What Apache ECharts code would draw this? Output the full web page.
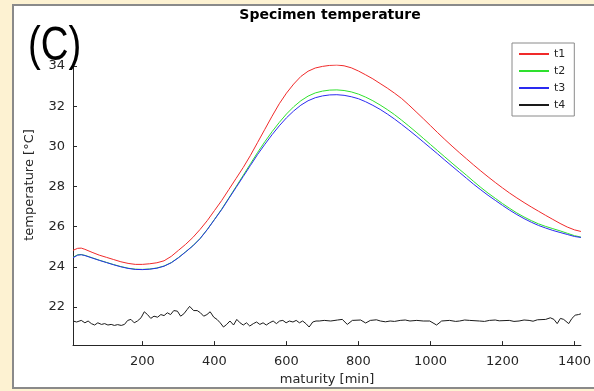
<!DOCTYPE html>
<html>
<head>
<meta charset="utf-8">
<script src="https://cdn.jsdelivr.net/npm/echarts@6/dist/echarts.min.js"></script>
<style>
html,body{margin:0;padding:0;width:594px;height:391px;overflow:hidden;background:#fdf2d2;}
#panel{position:absolute;left:12px;top:4px;width:620px;height:385px;box-sizing:border-box;border:2.5px solid #8a8a8a;background:#fff;}
#chart{position:absolute;left:0;top:0;width:594px;height:391px;}
</style>
</head>
<body>
<div id="panel"></div>
<div id="chart"></div>
<script>
// ---- data ----
const titleText = 'Specimen temperature';
const xName = 'maturity [min]';
const yName = 'temperature [°C]';
const seriesNames = ['t1', 't2', 't3', 't4'];
const xTicks = [200, 400, 600, 800, 1000, 1200, 1400];
const yTicks = [22, 24, 26, 28, 30, 32, 34];

const minutes = [7,20,30,40,60,80,100,120,140,160,180,200,220,240,260,280,300,320,340,360,380,400,420,440,460,480,500,520,540,560,580,600,620,640,660,680,700,720,740,760,780,800,820,840,860,880,900,920,940,960,980,1000,1020,1040,1060,1080,1100,1120,1140,1160,1180,1200,1220,1240,1260,1280,1300,1320,1340,1360,1380,1400,1418];

const t1 = [24.82,24.92,24.93,24.87,24.72,24.58,24.47,24.36,24.25,24.17,24.12,24.12,24.15,24.20,24.30,24.52,24.82,25.12,25.46,25.86,26.30,26.80,27.30,27.85,28.40,28.95,29.55,30.20,30.85,31.50,32.12,32.65,33.10,33.48,33.74,33.90,33.98,34.03,34.05,34.01,33.91,33.75,33.56,33.36,33.13,32.90,32.65,32.38,32.06,31.72,31.38,31.03,30.68,30.34,30.01,29.69,29.38,29.07,28.77,28.48,28.20,27.93,27.67,27.43,27.20,26.98,26.77,26.56,26.36,26.16,25.98,25.84,25.76];

const t2 = [24.47,24.60,24.61,24.57,24.45,24.33,24.22,24.11,24.01,23.93,23.88,23.87,23.89,23.94,24.04,24.21,24.46,24.75,25.05,25.41,25.86,26.36,26.87,27.43,27.99,28.56,29.13,29.70,30.23,30.73,31.19,31.61,31.97,32.27,32.50,32.66,32.75,32.80,32.81,32.78,32.71,32.60,32.45,32.27,32.06,31.83,31.58,31.30,31.01,30.71,30.40,30.09,29.78,29.47,29.16,28.86,28.56,28.25,27.95,27.67,27.41,27.15,26.91,26.68,26.48,26.30,26.14,26.01,25.90,25.79,25.67,25.55,25.48];

const t3 = [24.45,24.58,24.60,24.56,24.44,24.32,24.21,24.10,24.00,23.92,23.87,23.86,23.88,23.93,24.03,24.20,24.45,24.74,25.04,25.40,25.85,26.35,26.85,27.40,27.95,28.50,29.05,29.60,30.10,30.58,31.02,31.42,31.76,32.05,32.27,32.42,32.51,32.56,32.57,32.54,32.47,32.37,32.22,32.04,31.84,31.61,31.36,31.09,30.81,30.52,30.22,29.92,29.62,29.31,29.01,28.71,28.41,28.11,27.83,27.56,27.31,27.06,26.82,26.60,26.40,26.22,26.06,25.93,25.81,25.71,25.61,25.51,25.46];

const t4Minutes = [7,17,30,40,49,58,67,76,86,95,104,113,122,131,141,150,159,168,177,186,196,205,214,223,232,242,251,260,269,278,287,297,306,315,324,331,342,352,361,370,379,388,398,407,416,425,434,443,453,462,471,480,489,498,508,517,526,535,544,553,563,572,581,590,599,608,618,627,636,645,654,663,673,682,691,705,723,742,755,769,783,806,820,833,850,861,875,888,900,916,930,943,962,980,998,1017,1031,1053,1070,1081,1095,1109,1136,1150,1164,1180,1191,1219,1232,1246,1260,1274,1285,1297,1320,1333,1343,1352,1361,1370,1384,1393,1402,1411,1418];

const t4 = [21.30,21.25,21.33,21.21,21.30,21.17,21.10,21.21,21.13,21.17,21.10,21.13,21.08,21.12,21.08,21.13,21.33,21.38,21.21,21.30,21.46,21.76,21.62,21.43,21.54,21.49,21.62,21.57,21.71,21.62,21.82,21.79,21.54,21.66,21.87,22.03,21.82,21.82,21.71,21.54,21.62,21.76,21.49,21.38,21.21,21.00,21.13,21.30,21.10,21.38,21.21,21.10,21.21,21.05,21.17,21.25,21.13,21.21,21.10,21.21,21.30,21.17,21.30,21.33,21.21,21.30,21.25,21.33,21.21,21.30,21.17,21.00,21.25,21.30,21.30,21.33,21.30,21.35,21.38,21.13,21.33,21.35,21.20,21.33,21.36,21.30,21.26,21.30,21.28,21.33,21.35,21.30,21.33,21.30,21.30,21.10,21.30,21.33,21.28,21.30,21.35,21.33,21.30,21.28,21.33,21.35,21.31,21.33,21.28,21.30,21.35,21.33,21.29,21.36,21.38,21.46,21.38,21.17,21.43,21.38,21.17,21.43,21.59,21.62,21.66];

const seriesColors = ['#f02a2a', '#2ee02e', '#2a2af0', '#1a1a1a'];

// ---- chart ----
const zip = (xs, ys) => xs.map((x, i) => [x, ys[i]]);
const chart = echarts.init(document.getElementById('chart'), null, {renderer: 'canvas'});
const font = 'DejaVu Sans';
const txt = '#262626';

const mk = (name, xs, ys, color) => ({
  name, type: 'line', data: zip(xs, ys), symbol: 'none', showSymbol: false,
  lineStyle: {width: 1, color}, itemStyle: {color}, animation: false, z: 3
});

chart.setOption({
  backgroundColor: 'transparent',
  animation: false,
  title: {
    text: titleText, left: 325, top: 3, textAlign: 'center',
    textStyle: {fontFamily: font, fontSize: 14, fontWeight: 'bold', color: '#000'}
  },
  legend: {
    data: seriesNames, orient: 'vertical', left: 512, top: 43,
    padding: [4, 9, 4, 6], itemWidth: 30, itemHeight: 2, itemGap: 3,
    borderColor: '#8a8a8a', borderWidth: 1, backgroundColor: '#fff',
    itemStyle: {opacity: 0},
    textStyle: {fontFamily: font, fontSize: 11, color: txt, lineHeight: 14}
  },
  grid: {left: 73, right: 8, top: 65, bottom: 43, containLabel: false},
  xAxis: {
    type: 'value', min: 7, max: 1418,
    name: xName, nameLocation: 'middle', nameGap: 19,
    nameTextStyle: {fontFamily: font, fontSize: 13, color: txt},
    axisLine: {show: true, lineStyle: {color: '#262626', width: 1}},
    axisTick: {show: true, inside: true, length: 4, customValues: xTicks, lineStyle: {color: '#262626'}},
    axisLabel: {customValues: xTicks, margin: 10, fontFamily: font, fontSize: 13, color: txt,
      formatter: v => String(v)},
    splitLine: {show: false}
  },
  yAxis: {
    type: 'value', min: 20.1, max: 34.05,
    axisLine: {show: true, lineStyle: {color: '#262626', width: 1}},
    axisTick: {show: true, inside: true, length: 4, customValues: yTicks, lineStyle: {color: '#262626'}},
    axisLabel: {customValues: yTicks, margin: 8, fontFamily: font, fontSize: 13, color: txt,
      formatter: v => String(v)},
    splitLine: {show: false}
  },
  graphic: [
    {
      type: 'text', x: 30, y: 185, rotation: Math.PI / 2,
      style: {text: yName, font: '13px "DejaVu Sans"', fill: txt, align: 'center', verticalAlign: 'middle'}
    },
    {
      type: 'text', x: 28, y: 23, scaleX: 0.8, scaleY: 1,
      style: {
        text: '{p|(}{c|C}{p|)}',
        rich: {
          p: {fontFamily: 'Liberation Sans', fontSize: 48, lineHeight: 48, verticalAlign: 'top', fill: '#000'},
          c: {fontFamily: 'Liberation Sans', fontSize: 48, lineHeight: 66, verticalAlign: 'top', fill: '#000'}
        }
      },
      z: 10
    }
  ],
  series: [
    mk(seriesNames[0], minutes, t1, seriesColors[0]),
    mk(seriesNames[1], minutes, t2, seriesColors[1]),
    mk(seriesNames[2], minutes, t3, seriesColors[2]),
    mk(seriesNames[3], t4Minutes, t4, seriesColors[3])
  ]
});
</script>
</body>
</html>
